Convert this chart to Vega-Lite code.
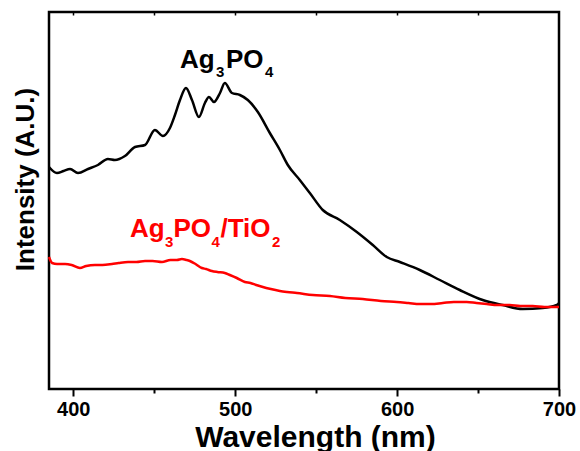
{
 "$schema": "https://vega.github.io/schema/vega-lite/v6.json",
 "width": 510, "height": 377,
 "autosize": {"type": "none"},
 "padding": {"left": 49, "top": 12, "right": 21, "bottom": 62},
 "background": "white",
 "config": {"font": "Liberation Sans", "view": {"stroke": "black", "strokeWidth": 2.5}, "axis": {"grid": false, "domain": false, "tickColor": "black"}},
 "datasets": {
  "spectra": [
   {"sample": "Ag3PO4", "wavelength": 385, "intensity": 222},
   {"sample": "Ag3PO4", "wavelength": 389.9, "intensity": 216},
   {"sample": "Ag3PO4", "wavelength": 394, "intensity": 218},
   {"sample": "Ag3PO4", "wavelength": 398, "intensity": 220},
   {"sample": "Ag3PO4", "wavelength": 402.9, "intensity": 216},
   {"sample": "Ag3PO4", "wavelength": 409.1, "intensity": 220},
   {"sample": "Ag3PO4", "wavelength": 415.2, "intensity": 224},
   {"sample": "Ag3PO4", "wavelength": 421.4, "intensity": 230},
   {"sample": "Ag3PO4", "wavelength": 425.7, "intensity": 229},
   {"sample": "Ag3PO4", "wavelength": 431.9, "intensity": 233},
   {"sample": "Ag3PO4", "wavelength": 438.1, "intensity": 242},
   {"sample": "Ag3PO4", "wavelength": 444.3, "intensity": 244},
   {"sample": "Ag3PO4", "wavelength": 450.4, "intensity": 259},
   {"sample": "Ag3PO4", "wavelength": 455.4, "intensity": 253},
   {"sample": "Ag3PO4", "wavelength": 459.7, "intensity": 261},
   {"sample": "Ag3PO4", "wavelength": 462.8, "intensity": 274},
   {"sample": "Ag3PO4", "wavelength": 465.9, "intensity": 289},
   {"sample": "Ag3PO4", "wavelength": 469.6, "intensity": 301},
   {"sample": "Ag3PO4", "wavelength": 473.3, "intensity": 289},
   {"sample": "Ag3PO4", "wavelength": 477.6, "intensity": 272},
   {"sample": "Ag3PO4", "wavelength": 481.3, "intensity": 286},
   {"sample": "Ag3PO4", "wavelength": 483.8, "intensity": 292},
   {"sample": "Ag3PO4", "wavelength": 486.9, "intensity": 287},
   {"sample": "Ag3PO4", "wavelength": 490.6, "intensity": 296},
   {"sample": "Ag3PO4", "wavelength": 493.6, "intensity": 306},
   {"sample": "Ag3PO4", "wavelength": 498, "intensity": 296},
   {"sample": "Ag3PO4", "wavelength": 502.9, "intensity": 294},
   {"sample": "Ag3PO4", "wavelength": 507.8, "intensity": 289},
   {"sample": "Ag3PO4", "wavelength": 514, "intensity": 277},
   {"sample": "Ag3PO4", "wavelength": 521.4, "intensity": 256},
   {"sample": "Ag3PO4", "wavelength": 527.6, "intensity": 239},
   {"sample": "Ag3PO4", "wavelength": 532.5, "intensity": 224},
   {"sample": "Ag3PO4", "wavelength": 539.9, "intensity": 209},
   {"sample": "Ag3PO4", "wavelength": 546.1, "intensity": 196},
   {"sample": "Ag3PO4", "wavelength": 554.1, "intensity": 179},
   {"sample": "Ag3PO4", "wavelength": 564.6, "intensity": 169},
   {"sample": "Ag3PO4", "wavelength": 575.1, "intensity": 157},
   {"sample": "Ag3PO4", "wavelength": 585, "intensity": 144},
   {"sample": "Ag3PO4", "wavelength": 593.6, "intensity": 132},
   {"sample": "Ag3PO4", "wavelength": 601.7, "intensity": 127},
   {"sample": "Ag3PO4", "wavelength": 614, "intensity": 119},
   {"sample": "Ag3PO4", "wavelength": 626.4, "intensity": 109},
   {"sample": "Ag3PO4", "wavelength": 638.7, "intensity": 99},
   {"sample": "Ag3PO4", "wavelength": 652.9, "intensity": 89},
   {"sample": "Ag3PO4", "wavelength": 665.2, "intensity": 84},
   {"sample": "Ag3PO4", "wavelength": 677.6, "intensity": 80},
   {"sample": "Ag3PO4", "wavelength": 689.9, "intensity": 81},
   {"sample": "Ag3PO4", "wavelength": 698.6, "intensity": 84},
   {"sample": "Ag3PO4", "wavelength": 700, "intensity": 86},
   {"sample": "Ag3PO4/TiO2", "wavelength": 385, "intensity": 132},
   {"sample": "Ag3PO4/TiO2", "wavelength": 386.9, "intensity": 126},
   {"sample": "Ag3PO4/TiO2", "wavelength": 390, "intensity": 125},
   {"sample": "Ag3PO4/TiO2", "wavelength": 394.9, "intensity": 125},
   {"sample": "Ag3PO4/TiO2", "wavelength": 399, "intensity": 124},
   {"sample": "Ag3PO4/TiO2", "wavelength": 404.1, "intensity": 121},
   {"sample": "Ag3PO4/TiO2", "wavelength": 408, "intensity": 123},
   {"sample": "Ag3PO4/TiO2", "wavelength": 413.4, "intensity": 124},
   {"sample": "Ag3PO4/TiO2", "wavelength": 418, "intensity": 124},
   {"sample": "Ag3PO4/TiO2", "wavelength": 423.9, "intensity": 125},
   {"sample": "Ag3PO4/TiO2", "wavelength": 428, "intensity": 126},
   {"sample": "Ag3PO4/TiO2", "wavelength": 433.8, "intensity": 127},
   {"sample": "Ag3PO4/TiO2", "wavelength": 439, "intensity": 127},
   {"sample": "Ag3PO4/TiO2", "wavelength": 444.3, "intensity": 128},
   {"sample": "Ag3PO4/TiO2", "wavelength": 449, "intensity": 128},
   {"sample": "Ag3PO4/TiO2", "wavelength": 454.8, "intensity": 127},
   {"sample": "Ag3PO4/TiO2", "wavelength": 460, "intensity": 129},
   {"sample": "Ag3PO4/TiO2", "wavelength": 464, "intensity": 129},
   {"sample": "Ag3PO4/TiO2", "wavelength": 467.1, "intensity": 130},
   {"sample": "Ag3PO4/TiO2", "wavelength": 470, "intensity": 129},
   {"sample": "Ag3PO4/TiO2", "wavelength": 472, "intensity": 128},
   {"sample": "Ag3PO4/TiO2", "wavelength": 475.5, "intensity": 125},
   {"sample": "Ag3PO4/TiO2", "wavelength": 479.4, "intensity": 121},
   {"sample": "Ag3PO4/TiO2", "wavelength": 482, "intensity": 120},
   {"sample": "Ag3PO4/TiO2", "wavelength": 485.6, "intensity": 118},
   {"sample": "Ag3PO4/TiO2", "wavelength": 489, "intensity": 117},
   {"sample": "Ag3PO4/TiO2", "wavelength": 493.6, "intensity": 116},
   {"sample": "Ag3PO4/TiO2", "wavelength": 496.7, "intensity": 114},
   {"sample": "Ag3PO4/TiO2", "wavelength": 501, "intensity": 111},
   {"sample": "Ag3PO4/TiO2", "wavelength": 506, "intensity": 107},
   {"sample": "Ag3PO4/TiO2", "wavelength": 509.4, "intensity": 106},
   {"sample": "Ag3PO4/TiO2", "wavelength": 513, "intensity": 104},
   {"sample": "Ag3PO4/TiO2", "wavelength": 517.1, "intensity": 102},
   {"sample": "Ag3PO4/TiO2", "wavelength": 522, "intensity": 100},
   {"sample": "Ag3PO4/TiO2", "wavelength": 527.6, "intensity": 98},
   {"sample": "Ag3PO4/TiO2", "wavelength": 532, "intensity": 97},
   {"sample": "Ag3PO4/TiO2", "wavelength": 538.1, "intensity": 96},
   {"sample": "Ag3PO4/TiO2", "wavelength": 548, "intensity": 94},
   {"sample": "Ag3PO4/TiO2", "wavelength": 558.5, "intensity": 93},
   {"sample": "Ag3PO4/TiO2", "wavelength": 568, "intensity": 91},
   {"sample": "Ag3PO4/TiO2", "wavelength": 578.8, "intensity": 90},
   {"sample": "Ag3PO4/TiO2", "wavelength": 590, "intensity": 88},
   {"sample": "Ag3PO4/TiO2", "wavelength": 599.8, "intensity": 87},
   {"sample": "Ag3PO4/TiO2", "wavelength": 607, "intensity": 86},
   {"sample": "Ag3PO4/TiO2", "wavelength": 614, "intensity": 85},
   {"sample": "Ag3PO4/TiO2", "wavelength": 621, "intensity": 85},
   {"sample": "Ag3PO4/TiO2", "wavelength": 628.2, "intensity": 86},
   {"sample": "Ag3PO4/TiO2", "wavelength": 635, "intensity": 87},
   {"sample": "Ag3PO4/TiO2", "wavelength": 643, "intensity": 87},
   {"sample": "Ag3PO4/TiO2", "wavelength": 649, "intensity": 86},
   {"sample": "Ag3PO4/TiO2", "wavelength": 655.4, "intensity": 85},
   {"sample": "Ag3PO4/TiO2", "wavelength": 662, "intensity": 84},
   {"sample": "Ag3PO4/TiO2", "wavelength": 669.6, "intensity": 84},
   {"sample": "Ag3PO4/TiO2", "wavelength": 676, "intensity": 83},
   {"sample": "Ag3PO4/TiO2", "wavelength": 683.8, "intensity": 83},
   {"sample": "Ag3PO4/TiO2", "wavelength": 691, "intensity": 82},
   {"sample": "Ag3PO4/TiO2", "wavelength": 698.6, "intensity": 82},
   {"sample": "Ag3PO4/TiO2", "wavelength": 700, "intensity": 82}
  ]
 },
 "resolve": {"axis": {"x": "independent"}},
 "layer": [
  {
   "data": {"name": "spectra"},
   "mark": {"type": "line", "strokeWidth": 2.5, "interpolate": "monotone"},
   "encoding": {
    "x": {"field": "wavelength", "type": "quantitative", "scale": {"domain": [385, 700], "nice": false, "zero": false},
     "axis": {"orient": "bottom", "values": [400, 500, 600, 700], "tickSize": 7, "tickWidth": 2, "labelFontSize": 20, "labelFontWeight": "bold", "labelColor": "black", "labelPadding": 3, "labelFlush": false, "title": "Wavelength (nm)", "titleFontSize": 30, "titleFontWeight": "bold", "titleColor": "black", "titlePadding": 3, "titleX": 266}},
    "y": {"field": "intensity", "type": "quantitative", "scale": {"domain": [0, 377], "nice": false, "zero": false},
     "axis": {"orient": "left", "ticks": false, "labels": false, "title": "Intensity (A.U.)", "titleFontSize": 26, "titleFontWeight": "bold", "titleColor": "black", "titleX": -11, "titleY": 167}},
    "color": {"field": "sample", "type": "nominal", "scale": {"domain": ["Ag3PO4", "Ag3PO4/TiO2"], "range": ["black", "#ff0000"]}, "legend": null}
   }
  },
  {
   "data": {"name": "spectra"},
   "mark": {"type": "point", "opacity": 0},
   "encoding": {
    "x": {"field": "wavelength", "type": "quantitative", "axis": {"orient": "bottom", "values": [450, 550, 650], "labels": false, "tickSize": 4, "tickWidth": 2, "title": null}}
   }
  },
  {
   "data": {"name": "spectra"},
   "mark": {"type": "point", "opacity": 0},
   "encoding": {
    "x": {"field": "wavelength", "type": "quantitative", "axis": {"orient": "top", "values": [400, 450, 500, 550, 600, 650], "labels": false, "tickSize": -3, "tickWidth": 1.5, "title": null}}
   }
  },
  {"data": {"values": [{}]}, "mark": {"type": "text", "align": "left", "baseline": "alphabetic", "fontSize": 26, "fontWeight": "bold", "color": "black", "text": "Ag"},
   "encoding": {"x": {"datum": 465.9, "type": "quantitative", "axis": null}, "y": {"datum": 321, "type": "quantitative"}}},
  {"data": {"values": [{}]}, "mark": {"type": "text", "align": "left", "baseline": "alphabetic", "fontSize": 15, "fontWeight": "bold", "color": "black", "text": "3"},
   "encoding": {"x": {"datum": 488.2, "type": "quantitative", "axis": null}, "y": {"datum": 312, "type": "quantitative"}}},
  {"data": {"values": [{}]}, "mark": {"type": "text", "align": "left", "baseline": "alphabetic", "fontSize": 26, "fontWeight": "bold", "color": "black", "text": "PO"},
   "encoding": {"x": {"datum": 494.3, "type": "quantitative", "axis": null}, "y": {"datum": 321, "type": "quantitative"}}},
  {"data": {"values": [{}]}, "mark": {"type": "text", "align": "left", "baseline": "alphabetic", "fontSize": 15, "fontWeight": "bold", "color": "black", "text": "4"},
   "encoding": {"x": {"datum": 518.4, "type": "quantitative", "axis": null}, "y": {"datum": 312, "type": "quantitative"}}},
  {"data": {"values": [{}]}, "mark": {"type": "text", "align": "left", "baseline": "alphabetic", "fontSize": 26, "fontWeight": "bold", "color": "#ff0000", "text": "Ag"},
   "encoding": {"x": {"datum": 435.0, "type": "quantitative", "axis": null}, "y": {"datum": 152, "type": "quantitative"}}},
  {"data": {"values": [{}]}, "mark": {"type": "text", "align": "left", "baseline": "alphabetic", "fontSize": 15, "fontWeight": "bold", "color": "#ff0000", "text": "3"},
   "encoding": {"x": {"datum": 456.6, "type": "quantitative", "axis": null}, "y": {"datum": 142, "type": "quantitative"}}},
  {"data": {"values": [{}]}, "mark": {"type": "text", "align": "left", "baseline": "alphabetic", "fontSize": 26, "fontWeight": "bold", "color": "#ff0000", "text": "PO"},
   "encoding": {"x": {"datum": 461.9, "type": "quantitative", "axis": null}, "y": {"datum": 152, "type": "quantitative"}}},
  {"data": {"values": [{}]}, "mark": {"type": "text", "align": "left", "baseline": "alphabetic", "fontSize": 15, "fontWeight": "bold", "color": "#ff0000", "text": "4"},
   "encoding": {"x": {"datum": 485.4, "type": "quantitative", "axis": null}, "y": {"datum": 142, "type": "quantitative"}}},
  {"data": {"values": [{}]}, "mark": {"type": "text", "align": "left", "baseline": "alphabetic", "fontSize": 26, "fontWeight": "bold", "color": "#ff0000", "text": "/TiO"},
   "encoding": {"x": {"datum": 490.9, "type": "quantitative", "axis": null}, "y": {"datum": 152, "type": "quantitative"}}},
  {"data": {"values": [{}]}, "mark": {"type": "text", "align": "left", "baseline": "alphabetic", "fontSize": 15, "fontWeight": "bold", "color": "#ff0000", "text": "2"},
   "encoding": {"x": {"datum": 522.7, "type": "quantitative", "axis": null}, "y": {"datum": 142, "type": "quantitative"}}}
 ]
}
